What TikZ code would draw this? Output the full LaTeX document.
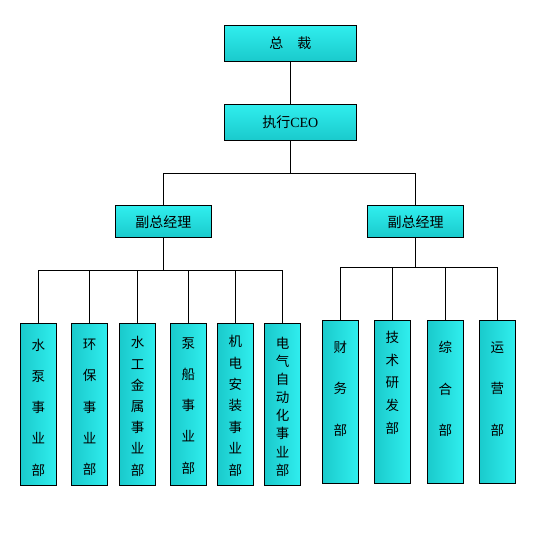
\documentclass[tikz,border=0pt]{standalone}
\usepackage{fontspec}
\newfontfamily\cjk{Noto Sans CJK SC}
\definecolor{cyanlight}{RGB}{48,238,238}
\definecolor{cyandark}{RGB}{26,202,204}
\begin{document}
\begin{tikzpicture}[x=1pt,y=-1pt,
    headbox/.style={draw,line width=1pt,top color=cyanlight,bottom color=cyandark,
      minimum width=132pt,minimum height=36pt,inner sep=0pt,font=\cjk\fontsize{14}{16}\selectfont},
    vpbox/.style={headbox,minimum width=96pt,minimum height=32pt},
    deptbox/.style={draw,line width=1pt,left color=cyandark,right color=cyanlight,
      minimum width=36pt,inner sep=0pt},
    deptlabel/.style={align=center,inner sep=0pt,font=\cjk\fontsize{13.5}{#1}\selectfont}]
    \useasboundingbox (0,0) rectangle (543,546);
    % top levels
    \node[headbox] (ceo) at (290.3,43) {总\hspace{1em}裁};
    \node[headbox] (exec) at (290.3,122) {执行{\fontspec{Liberation Serif}CEO}};
    \node[vpbox] (vpL) at (163.3,221.8) {副总经理};
    \node[vpbox] (vpR) at (415.5,221.8) {副总经理};
    \draw[line width=1pt] (ceo) -- (exec);
    \coordinate (busT) at (290.3,173);
    \draw[line width=1pt] (exec) -- (busT) -| (vpL);
    \draw[line width=1pt] (busT) -| (vpR);
    % left departments
    \coordinate (busL) at (163.3,270.3);
    \draw[line width=1pt] (vpL) -- (busL);
    \foreach \i/\x/\t/\s/\y in {1/38.3/水\\泵\\事\\业\\部/31.25/407.5,
        2/89.5/环\\保\\事\\业\\部/31.25/407.5,
        3/137.5/水\\工\\金\\属\\事\\业\\部/21.2/406.3,
        4/188.3/泵\\船\\事\\业\\部/31.25/405.8,
        5/235.3/机\\电\\安\\装\\事\\业\\部/21.4/405.8,
        6/282.5/电\\气\\自\\动\\化\\事\\业\\部/18.1/406.7}{
      \node[deptbox,minimum height=162pt] (dL\i) at (\x,404.3) {};
      \node[deptlabel=\s] (tL\i) at (\x,\y) {\t};
      \draw[line width=1pt] (busL) -| (dL\i);
    }
    % right departments
    \coordinate (busR) at (415.5,267.3);
    \draw[line width=1pt] (vpR) -- (busR);
    \foreach \i/\x/\t/\s/\y in {1/340.3/财\\务\\部/41.5/388.5,
        2/392.3/技\\术\\研\\发\\部/22.8/382.7,
        3/445.3/综\\合\\部/41.7/389,
        4/497.3/运\\营\\部/41.7/389}{
      \node[deptbox,minimum height=163pt] (dR\i) at (\x,401.8) {};
      \node[deptlabel=\s] (tR\i) at (\x,\y) {\t};
      \draw[line width=1pt] (busR) -| (dR\i);
    }
\end{tikzpicture}
\end{document}
